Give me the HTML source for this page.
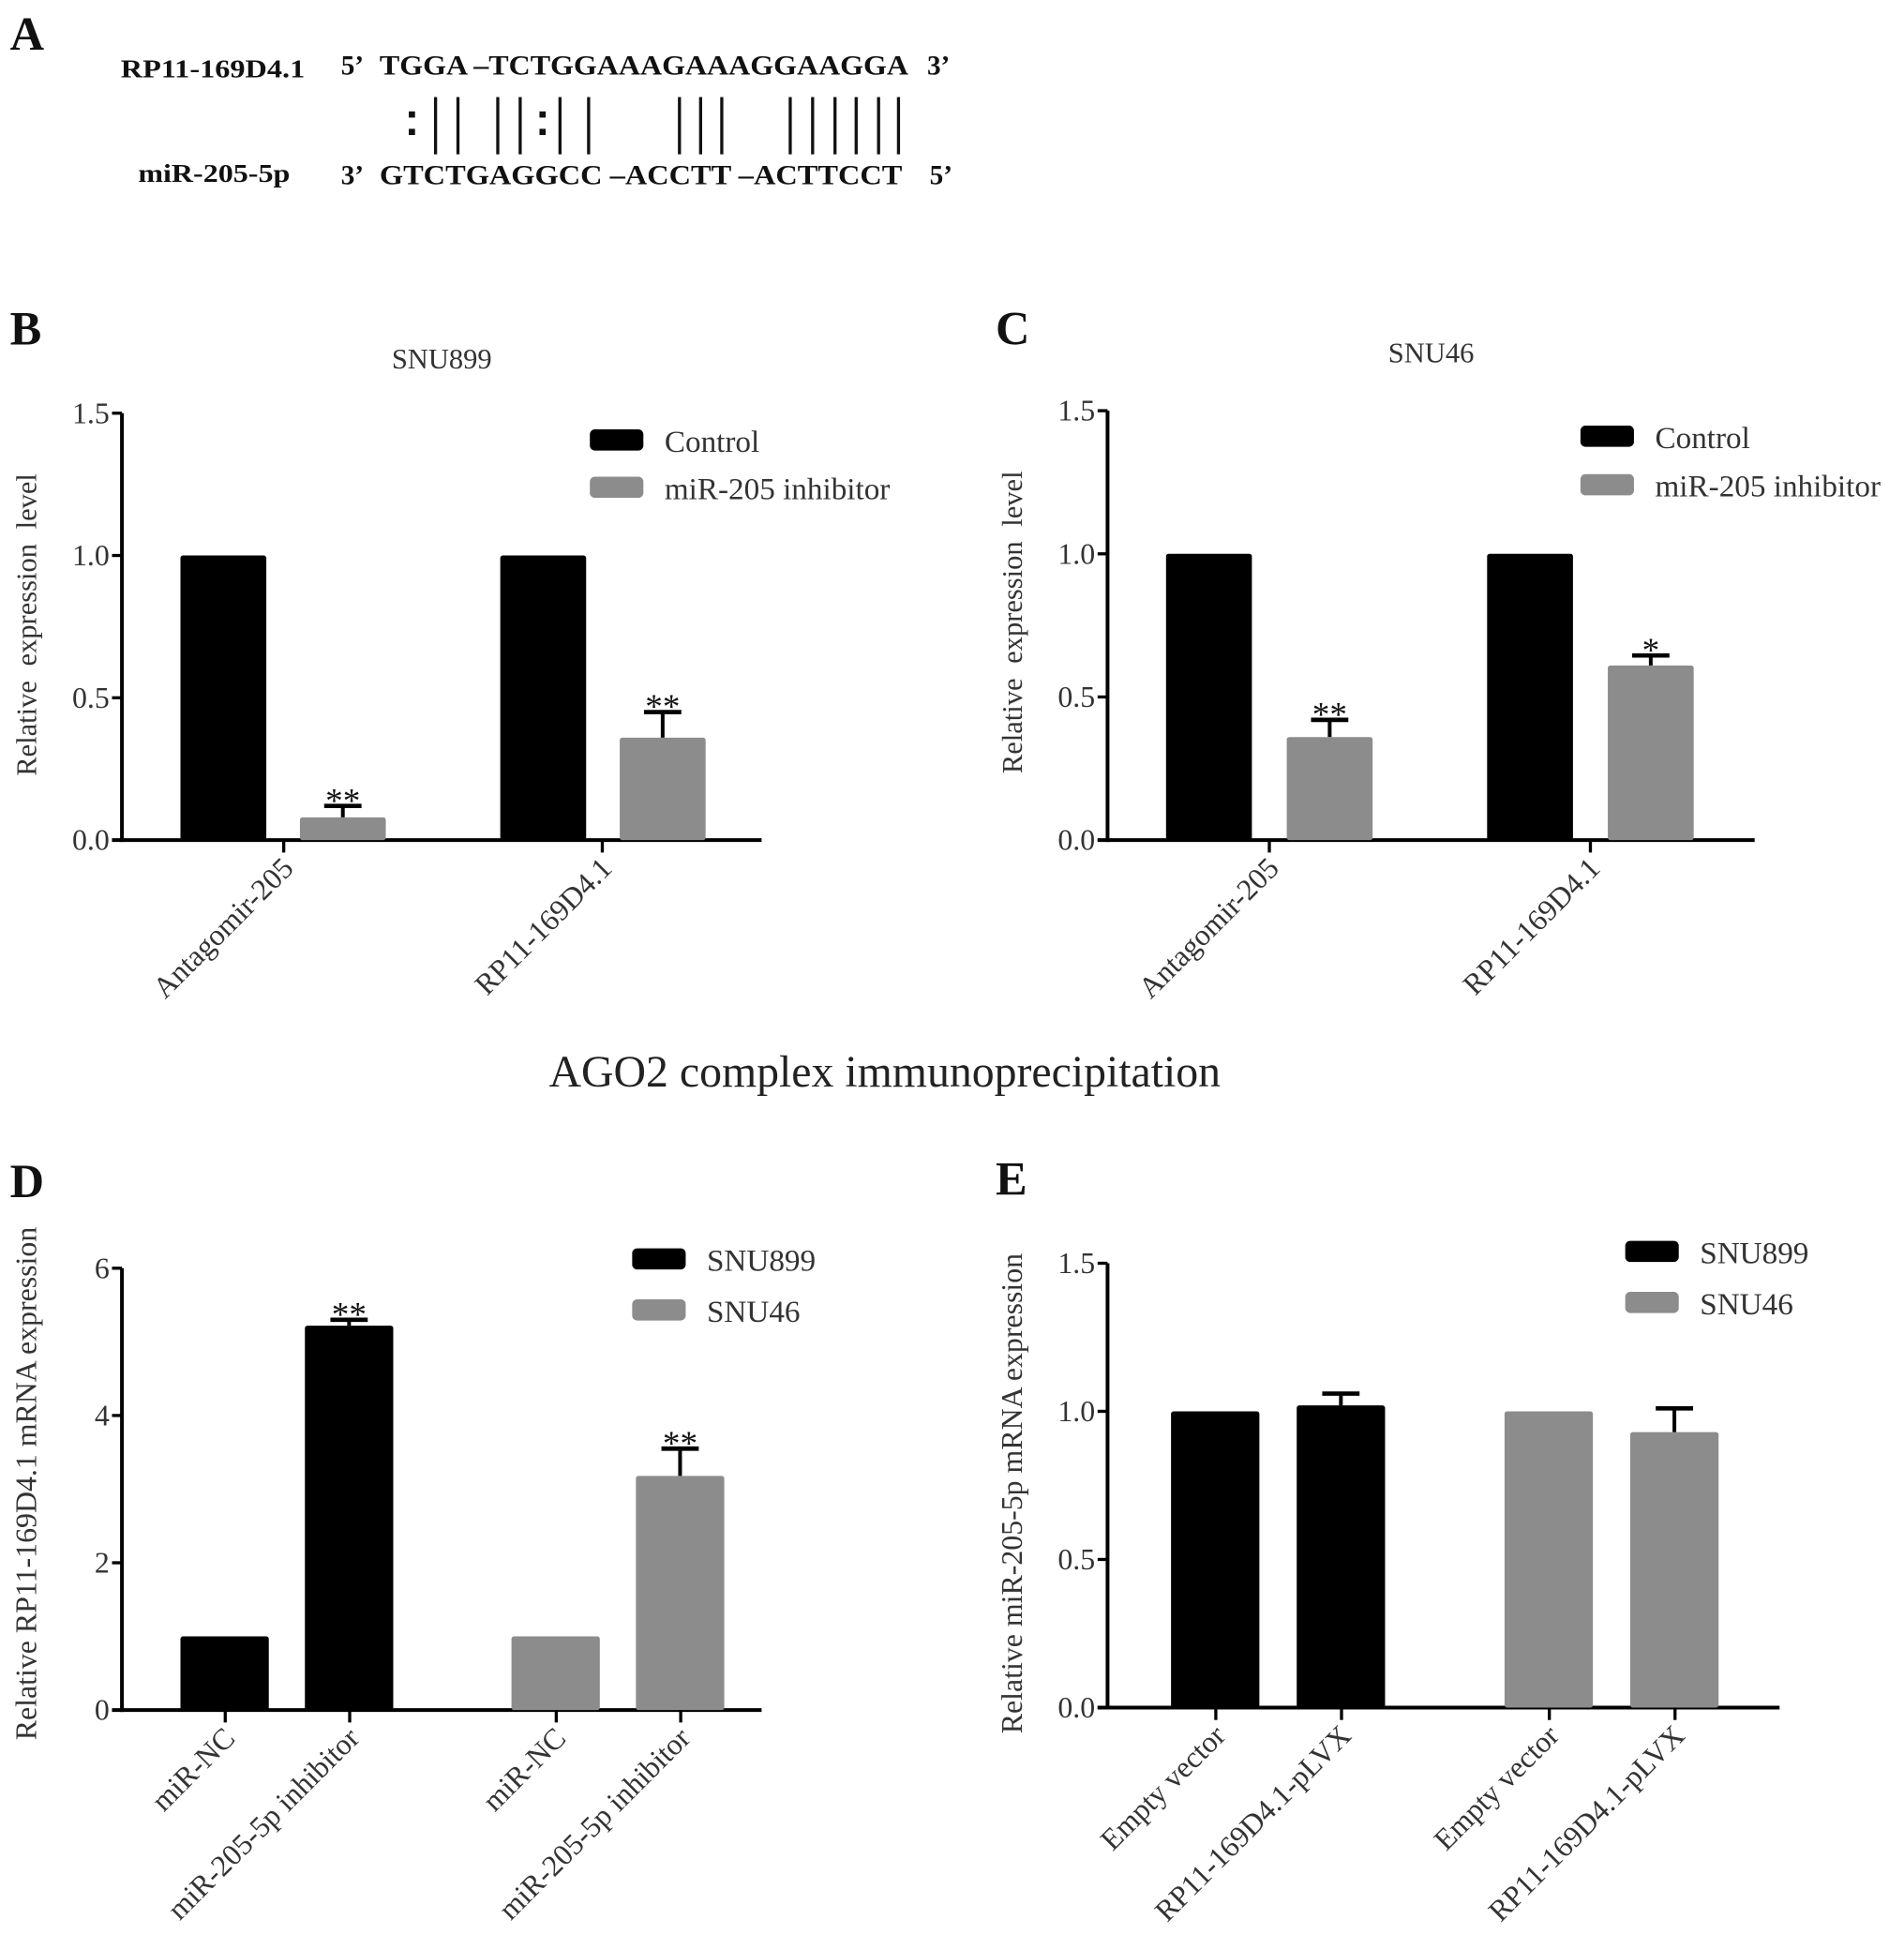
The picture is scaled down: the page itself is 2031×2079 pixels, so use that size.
<!DOCTYPE html>
<html><head><meta charset="utf-8"><style>
html,body{margin:0;padding:0;background:#fff;}
svg{display:block;font-family:"Liberation Serif",serif;}
</style></head><body>
<svg id="fig" width="2031" height="2079" viewBox="0 0 1530 1566" preserveAspectRatio="none">
<g id="panelA" font-weight="bold" fill="#111">
<text x="8" y="40" font-size="38">A</text>
<text x="97" y="62" font-size="21" textLength="148" lengthAdjust="spacingAndGlyphs">RP11-169D4.1</text>
<text x="274" y="60" font-size="22">5’</text>
<text x="305" y="60" font-size="22" textLength="425" lengthAdjust="spacingAndGlyphs">TGGA –TCTGGAAAGAAAGGAAGGA</text>
<text x="745" y="60" font-size="22">3’</text>
<text x="111" y="146" font-size="21" textLength="122" lengthAdjust="spacingAndGlyphs">miR-205-5p</text>
<text x="274" y="148" font-size="22">3’</text>
<text x="305" y="148" font-size="22" textLength="420" lengthAdjust="spacingAndGlyphs">GTCTGAGGCC –ACCTT –ACTTCCT</text>
<text x="747" y="148" font-size="22">5’</text>
<g id="pairs" stroke="#111" stroke-width="2.5"></g>
</g>
<text x="711" y="873" font-size="36" text-anchor="middle" fill="#222">AGO2 complex immunoprecipitation</text>
</svg>
<script>
// ---- Panel A pairing marks (positions of alignment glyphs) ----
const pairLineX=[350,368,400,418,450,473,546,563,580,635,653,671,688,706,722];
const pairColonX=[331,436];

// ---- Panel B data ----
const bCategories=["Antagomir-205","RP11-169D4.1"];
const bControl=[1.0,1.0];
const bInhibitor=[0.08,0.36];
const bInhibitorErr=[0.04,0.09];
const bStars=["**","**"];
const bTicks=["0.0","0.5","1.0","1.5"];
// ---- Panel C data ----
const cCategories=["Antagomir-205","RP11-169D4.1"];
const cControl=[1.0,1.0];
const cInhibitor=[0.36,0.61];
const cInhibitorErr=[0.06,0.035];
const cStars=["**","*"];
const cTicks=["0.0","0.5","1.0","1.5"];
// ---- Panel D data ----
const dCategories=["miR-NC","miR-205-5p inhibitor","miR-NC","miR-205-5p inhibitor"];
const dValues=[1.0,5.22,1.0,3.18];
const dErr=[0,0.08,0,0.37];
const dStars=["","**","","**"];
const dTicks=["0","2","4","6"];
// ---- Panel E data ----
const eCategories=["Empty vector","RP11-169D4.1-pLVX","Empty vector","RP11-169D4.1-pLVX"];
const eValues=[1.0,1.02,1.0,0.93];
const eErr=[0,0.04,0,0.08];
const eTicks=["0.0","0.5","1.0","1.5"];

const NS="http://www.w3.org/2000/svg";
const svg=document.getElementById('fig');
function mk(tag,attrs,parent){const e=document.createElementNS(NS,tag);for(const k in attrs)e.setAttribute(k,attrs[k]);(parent||svg).appendChild(e);return e;}

const pairs=document.getElementById('pairs');
pairLineX.forEach(x=>{const l=mk('line',{x1:x,x2:x,y1:78,y2:124},pairs);

});
pairColonX.forEach(x=>{[92,106].forEach(y=>{const r=mk('rect',{x:x-2.5,y:y-2.5,width:5,height:5,fill:'#111',stroke:'none'},pairs);

});});

const BLACK='#000', GRAY='#8c8c8c';

function panel(cfg){
  const g=mk('g',{});
  
  
  const yv=v=>cfg.y0-(v/cfg.vmax)*(cfg.y0-cfg.yTop);
  const lbl=mk('text',{x:cfg.lx,y:cfg.ly,'font-size':38,'font-weight':'bold',fill:'#111'},g);lbl.textContent=cfg.letter;
  
  
  if(cfg.title){const t=mk('text',{x:cfg.tx,y:cfg.ty,'font-size':23,'text-anchor':'middle',fill:'#333'},g);t.textContent=cfg.title;
  
  }
  const ya=mk('line',{x1:cfg.ax,x2:cfg.ax,y1:cfg.yTop,y2:cfg.y0+1.5,stroke:'#000','stroke-width':3},g);
  
  
  cfg.ticks.forEach(t=>{const y=yv(parseFloat(t));
    const tk=mk('line',{x1:cfg.ax-8,x2:cfg.ax,y1:y,y2:y,stroke:'#000','stroke-width':2.5},g);
    
    
    const tl=mk('text',{x:cfg.ax-10,y:y+8,'font-size':24,'text-anchor':'end',fill:'#333'},g);tl.textContent=t;
    
    });
  const xa=mk('line',{x1:cfg.ax-8,x2:cfg.xEnd,y1:cfg.y0,y2:cfg.y0,stroke:'#000','stroke-width':3},g);
  
  
  const yt=mk('text',{x:0,y:0,'font-size':cfg.ytSize,'text-anchor':'middle','word-spacing':cfg.ytSpace,fill:'#333',transform:`translate(${cfg.ytx},${cfg.yty}) rotate(-90)`},g);yt.textContent=cfg.ytitle;
  
  
  cfg.bars.forEach(b=>{
    const top=yv(b.v);
    const r=mk('rect',{x:b.x,y:top,width:cfg.bw,height:cfg.y0-top,fill:b.c,rx:2},g);
    
    
    if(b.e>0){const et=yv(b.v+b.e),cx=b.x+cfg.bw/2;
      const el=mk('line',{x1:cx,x2:cx,y1:top,y2:et,stroke:'#000','stroke-width':3},g);
      
      
      const ec=mk('line',{x1:cx-15,x2:cx+15,y1:et,y2:et,stroke:'#000','stroke-width':3.5},g);
      
      }
    if(b.s){const st=mk('text',{x:b.x+cfg.bw/2,y:yv(b.v+b.e)+5,'font-size':28,'text-anchor':'middle',fill:'#111'},g);st.textContent=b.s;
      
      }
  });
  cfg.cats.forEach((c,i)=>{const x=cfg.catX[i];
    const tk=mk('line',{x1:x,x2:x,y1:cfg.y0,y2:cfg.y0+10,stroke:'#000','stroke-width':2.5},g);
    
    
    const tl=mk('text',{x:0,y:0,'font-size':24,'text-anchor':'end',fill:'#333',transform:`translate(${x+9},${cfg.y0+24}) rotate(-45)`},g);tl.textContent=c;
    
    });
  cfg.legend.forEach((L,i)=>{const y=cfg.legY+i*cfg.legDy;
    const r=mk('rect',{x:cfg.legX,y:y,width:43,height:17,rx:4,fill:L.c},g);
    
    
    const t=mk('text',{x:cfg.legX+60,y:y+18,'font-size':25,fill:'#333'},g);t.textContent=L.t;
    
    });
}

const bw69=69;
panel({name:'panel-b-snu899',letter:'B',lx:8,ly:277,title:'SNU899',tx:355,ty:296,ax:98,yTop:332,y0:675,vmax:1.5,xEnd:612,
  ticks:bTicks,ytitle:'Relative expression level',ytSize:23,ytSpace:6,ytx:29,yty:502,bw:bw69,
  bars:[{x:145,v:bControl[0],e:0,c:BLACK},{x:241,v:bInhibitor[0],e:bInhibitorErr[0],c:GRAY,s:bStars[0]},
        {x:402,v:bControl[1],e:0,c:BLACK},{x:498,v:bInhibitor[1],e:bInhibitorErr[1],c:GRAY,s:bStars[1]}],
  cats:bCategories,catX:[228,484],legX:474,legY:345,legDy:38,
  legend:[{c:BLACK,t:'Control'},{c:GRAY,t:'miR-205 inhibitor'}]});
panel({name:'panel-c-snu46',letter:'C',lx:800,ly:277,title:'SNU46',tx:1150,ty:291,ax:890,yTop:330,y0:675,vmax:1.5,xEnd:1410,
  ticks:cTicks,ytitle:'Relative expression level',ytSize:23,ytSpace:6,ytx:821,yty:500,bw:bw69,
  bars:[{x:937,v:cControl[0],e:0,c:BLACK},{x:1034,v:cInhibitor[0],e:cInhibitorErr[0],c:GRAY,s:cStars[0]},
        {x:1195,v:cControl[1],e:0,c:BLACK},{x:1292,v:cInhibitor[1],e:cInhibitorErr[1],c:GRAY,s:cStars[1]}],
  cats:cCategories,catX:[1020,1278],legX:1270,legY:342,legDy:39,
  legend:[{c:BLACK,t:'Control'},{c:GRAY,t:'miR-205 inhibitor'}]});
panel({name:'panel-d-ago2-rp11',letter:'D',lx:8,ly:962,title:'',ax:98,yTop:1019,y0:1374,vmax:6,xEnd:612,
  ticks:dTicks,ytitle:'Relative RP11-169D4.1 mRNA expression',ytSize:24,ytSpace:0,ytx:29,yty:1192,bw:71,
  bars:[{x:145,v:dValues[0],e:dErr[0],c:BLACK,s:dStars[0]},{x:245,v:dValues[1],e:dErr[1],c:BLACK,s:dStars[1]},
        {x:411,v:dValues[2],e:dErr[2],c:GRAY,s:dStars[2]},{x:511,v:dValues[3],e:dErr[3],c:GRAY,s:dStars[3]}],
  cats:dCategories,catX:[181,281,447,547],legX:508,legY:1003,legDy:41,
  legend:[{c:BLACK,t:'SNU899'},{c:GRAY,t:'SNU46'}]});
panel({name:'panel-e-mir205',letter:'E',lx:800,ly:960,title:'',ax:890,yTop:1015,y0:1372,vmax:1.5,xEnd:1430,
  ticks:eTicks,ytitle:'Relative miR-205-5p mRNA expression',ytSize:24,ytSpace:0,ytx:821,yty:1200,bw:71,
  bars:[{x:941,v:eValues[0],e:eErr[0],c:BLACK},{x:1042,v:eValues[1],e:eErr[1],c:BLACK},
        {x:1209,v:eValues[2],e:eErr[2],c:GRAY},{x:1310,v:eValues[3],e:eErr[3],c:GRAY}],
  cats:eCategories,catX:[977,1078,1245,1346],legX:1306,legY:997,legDy:41,
  legend:[{c:BLACK,t:'SNU899'},{c:GRAY,t:'SNU46'}]});
</script>
</body></html>
